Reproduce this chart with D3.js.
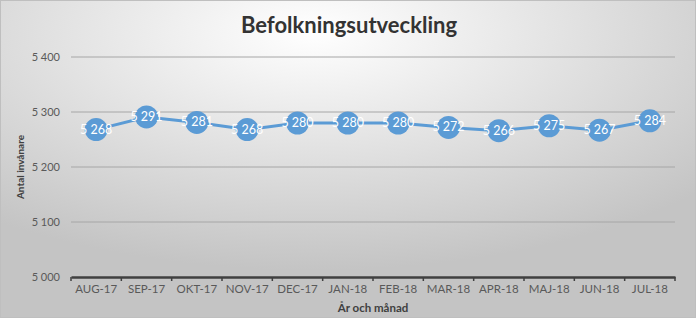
<!DOCTYPE html>
<html>
<head>
  <meta charset="utf-8">
  <title>Befolkningsutveckling</title>
  <script src="https://d3js.org/d3.v7.min.js"></script>
  <style>
    body { margin: 0; }
    text { font-family: Lato, "Open Sans", sans-serif; }
  </style>
</head>
<body>
  <script>
    // months and population per month
    var months = ["AUG-17", "SEP-17", "OKT-17", "NOV-17", "DEC-17", "JAN-18",
                  "FEB-18", "MAR-18", "APR-18", "MAJ-18", "JUN-18", "JUL-18"];
    var population = [5268, 5291, 5281, 5268, 5280, 5280, 5280, 5272, 5266, 5275, 5267, 5284];
    var yTicks = [5000, 5100, 5200, 5300, 5400];

    var W = 696, H = 318;
    var margin = {left: 71, right: 21, top: 57, bottom: 41};

    var svg = d3.select("body").append("svg")
      .attr("width", W).attr("height", H);

    // grey-white background like the excel chart
    var grad = svg.append("defs").append("radialGradient")
      .attr("id", "bg").attr("cx", "45%").attr("cy", "10%").attr("r", "75%");
    grad.append("stop").attr("offset", "0%").attr("stop-color", "#ffffff");
    grad.append("stop").attr("offset", "100%").attr("stop-color", "#c4c4c4");
    svg.append("rect").attr("width", W).attr("height", H).attr("fill", "url(#bg)");
    svg.append("rect").attr("x", 0.5).attr("y", 0.5).attr("width", W - 1).attr("height", H - 1)
      .attr("fill", "none").attr("stroke", "#bfbfbf");

    var x = d3.scaleBand().domain(months)
      .range([margin.left, W - margin.right]);
    var y = d3.scaleLinear().domain([5000, 5400])
      .range([H - margin.bottom, margin.top]);

    var fmt = function (d) { return d3.format(",")(d).replace(",", " "); };

    // gridlines
    svg.append("g").selectAll("line").data(yTicks.slice(1)).enter().append("line")
      .attr("x1", margin.left).attr("x2", W - margin.right)
      .attr("y1", function (d) { return y(d); }).attr("y2", function (d) { return y(d); })
      .attr("stroke", "#a6a6a6").attr("stroke-width", 1);

    // y axis labels
    svg.append("g").selectAll("text").data(yTicks).enter().append("text")
      .attr("x", margin.left - 11).attr("y", function (d) { return y(d) + 4; })
      .attr("text-anchor", "end").attr("font-size", 11).attr("fill", "#595959")
      .text(fmt);

    // x axis
    var xAxis = d3.axisBottom(x).tickSize(0);
    var gx = svg.append("g").attr("transform", "translate(0," + y(5000) + ")").call(xAxis);
    gx.select(".domain").attr("stroke", "#404040").attr("stroke-width", 2.5);
    gx.selectAll("text").attr("font-size", 11.5).attr("fill", "#595959")
      .attr("dy", "1.1em").style("font-family", "Lato, sans-serif");
    // little tick marks on the category boundaries
    var bounds = months.map(function (m) { return x(m); }).concat([W - margin.right]);
    gx.selectAll(".bnd").data(bounds).enter().append("line")
      .attr("x1", function (d) { return d; }).attr("x2", function (d) { return d; })
      .attr("y1", 0).attr("y2", 4).attr("stroke", "#404040").attr("stroke-width", 1.5);

    // line + markers
    var cx = function (d, i) { return x(months[i]) + x.bandwidth() / 2; };
    var line = d3.line().x(cx).y(function (d) { return y(d); });
    svg.append("path").datum(population).attr("d", line)
      .attr("fill", "none").attr("stroke", "#5b9bd5").attr("stroke-width", 3);
    svg.append("g").selectAll("circle").data(population).enter().append("circle")
      .attr("cx", cx).attr("cy", function (d) { return y(d); }).attr("r", 11.5)
      .attr("fill", "#5b9bd5");
    svg.append("g").selectAll("text").data(population).enter().append("text")
      .attr("x", cx).attr("y", function (d) { return y(d) + 4; })
      .attr("text-anchor", "middle").attr("font-size", 12.5).attr("fill", "#ffffff")
      .text(fmt);

    // titles
    svg.append("text").attr("x", 349).attr("y", 33).attr("text-anchor", "middle")
      .attr("font-size", 22).attr("font-weight", "bold").attr("fill", "#333333")
      .text("Befolkningsutveckling");
    svg.append("text").attr("x", (margin.left + W - margin.right) / 2).attr("y", 312)
      .attr("text-anchor", "middle").attr("font-size", 11.5).attr("font-weight", "bold")
      .attr("fill", "#404040").text("År och månad");
    svg.append("text").attr("transform", "translate(24," + y(5200) + ") rotate(-90)")
      .attr("text-anchor", "middle").attr("font-size", 10).attr("font-weight", "bold")
      .attr("fill", "#404040").text("Antal invånare");
  </script>
</body>
</html>
